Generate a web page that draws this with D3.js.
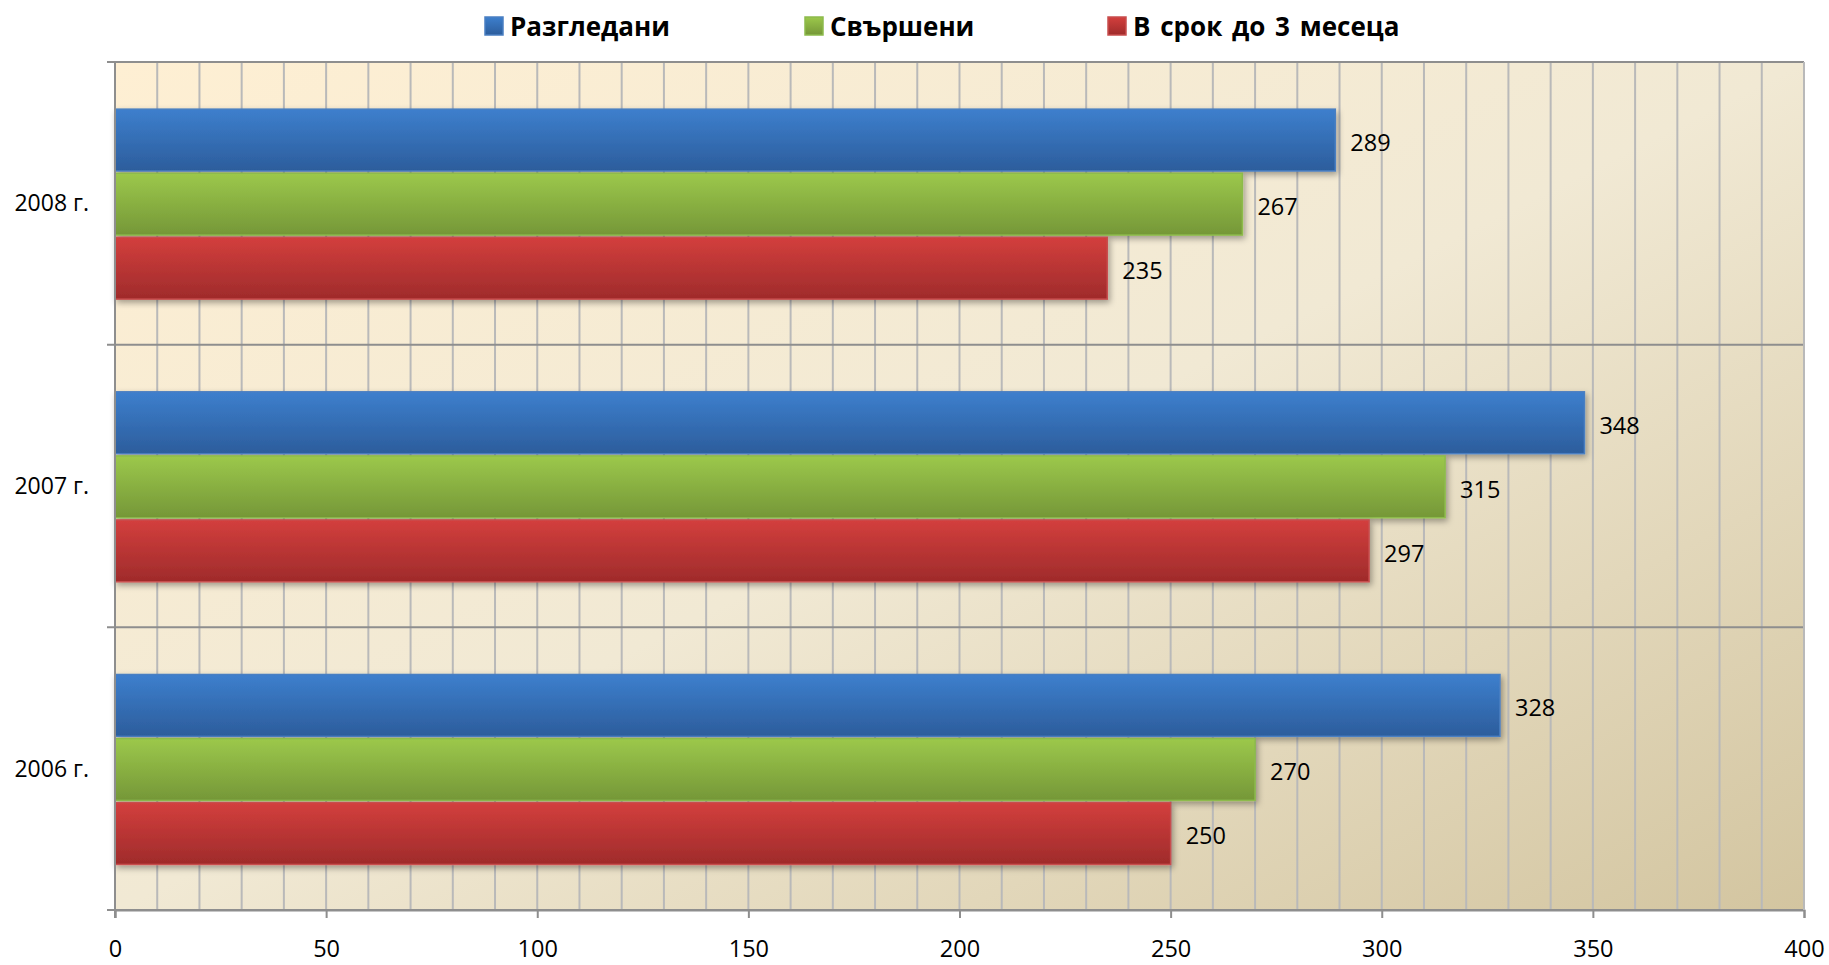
<!DOCTYPE html>
<html><head><meta charset="utf-8">
<script src="https://cdn.jsdelivr.net/npm/d3@7"></script>
<style>html,body{margin:0;padding:0;background:#fff;}svg{display:block;}</style>
</head><body>
<svg id="chart" width="1829" height="965"></svg>
<script>
const categories = ["2008 г.", "2007 г.", "2006 г."];
const seriesNames = ["Разгледани", "Свършени", "В срок до 3 месеца"];
const razgledani = [289, 348, 328];
const svarsheni = [267, 315, 270];
const vSrok = [235, 297, 250];
const xTicks = [0, 50, 100, 150, 200, 250, 300, 350, 400];
const seriesValues = [razgledani, svarsheni, vSrok];

const colors = [
  {top: "#3D7FCD", bot: "#2C5D9C", edge: "#4A7FC2"},
  {top: "#9CC84B", bot: "#759738", edge: "#8DBB4C"},
  {top: "#D33F3D", bot: "#9F2B2B", edge: "#C84E4E"}
];

const svg = d3.select("#chart");
const L = 115, R = 1804, T = 62, B = 910;
const fontFam = "'Open Sans', 'Noto Sans', sans-serif";

const x = d3.scaleLinear().domain([0, 400]).range([L, R]);
const y = d3.scaleBand().domain(categories).range([T, B]).paddingInner(0.328).paddingOuter(0.164);
const ys = d3.scaleBand().domain(d3.range(3)).range([0, y.bandwidth()]).paddingInner(0.035);

const defs = svg.append("defs");
const bg = defs.append("linearGradient").attr("id", "bg").attr("x1", 0).attr("y1", 0).attr("x2", 1).attr("y2", 1);
bg.append("stop").attr("offset", 0).attr("stop-color", "#FEEFD3");
bg.append("stop").attr("offset", 0.5).attr("stop-color", "#F1E9D4");
bg.append("stop").attr("offset", 1).attr("stop-color", "#D3C5A0");
colors.forEach((c, i) => {
  const g = defs.append("linearGradient").attr("id", "g" + i).attr("x1", 0).attr("y1", 0).attr("x2", 0).attr("y2", 1);
  g.append("stop").attr("offset", 0).attr("stop-color", c.top);
  g.append("stop").attr("offset", 1).attr("stop-color", c.bot);
});
const f = defs.append("filter").attr("id", "sh").attr("x", "-5%").attr("y", "-20%").attr("width", "110%").attr("height", "150%");
f.append("feDropShadow").attr("dx", 2).attr("dy", 3).attr("stdDeviation", 3).attr("flood-color", "#000").attr("flood-opacity", 0.35);

// plot background
svg.append("rect").attr("x", L).attr("y", T).attr("width", R - L).attr("height", B - T).attr("fill", "url(#bg)");

// vertical gridlines every 10
svg.append("g").selectAll("line").data(d3.range(10, 401, 10)).join("line")
  .attr("x1", d => x(d)).attr("x2", d => x(d)).attr("y1", T).attr("y2", B)
  .attr("stroke", "#B9B9B9").attr("stroke-width", 2);

// horizontal category boundaries
const bounds = [T].concat(categories.map(c => y(c) - y.step() * 0.164 + y.step()));
svg.append("g").selectAll("line").data(bounds).join("line")
  .attr("x1", L - 8).attr("x2", R).attr("y1", d => d).attr("y2", d => d)
  .attr("stroke", "#8E8E8E").attr("stroke-width", 2);

// bars
const barData = [];
categories.forEach((c, ci) => seriesValues.forEach((s, si) => barData.push({c, si, v: s[ci]})));
const bars = svg.append("g");
bars.selectAll("rect").data(barData).join("rect")
  .attr("x", x(0)).attr("y", d => y(d.c) + ys(d.si) + 0.8)
  .attr("width", d => x(d.v) - x(0)).attr("height", ys.bandwidth())
  .attr("fill", d => `url(#g${d.si})`)
  .attr("stroke", d => colors[d.si].edge).attr("stroke-width", 1.5)
  .attr("filter", "url(#sh)");

// data labels
svg.append("g").selectAll("text").data(barData).join("text")
  .attr("x", d => x(d.v) + 15).attr("y", d => y(d.c) + ys(d.si) + ys.bandwidth() / 2)
  .attr("dy", "0.5em")
  .attr("font-family", fontFam).attr("font-size", 23.5).attr("fill", "#000")
  .text(d => d.v);

// axes
const xAxis = d3.axisBottom(x).tickValues(xTicks).tickSize(8).tickPadding(22).tickFormat(d3.format("d"));
const gx = svg.append("g").attr("transform", `translate(0,${B})`).call(xAxis);
gx.select(".domain").attr("stroke", "#8E8E8E").attr("stroke-width", 2);
gx.selectAll(".tick line").attr("stroke", "#8E8E8E").attr("stroke-width", 2);
gx.selectAll("text").attr("font-family", fontFam).attr("font-size", 23.5).attr("fill", "#000");

svg.append("line").attr("x1", L).attr("x2", L).attr("y1", T).attr("y2", B + 8)
  .attr("stroke", "#8E8E8E").attr("stroke-width", 2);
svg.append("line").attr("x1", R).attr("x2", R).attr("y1", T).attr("y2", B)
  .attr("stroke", "#B9B9B9").attr("stroke-width", 2);

// category labels
svg.append("g").selectAll("text").data(categories).join("text")
  .attr("x", 89).attr("y", d => y(d) + y.bandwidth() / 2).attr("dy", "0.35em")
  .attr("text-anchor", "end").attr("font-family", fontFam).attr("font-size", 23).attr("fill", "#000")
  .text(d => d);

// legend
const legX = [485, 805, 1108];
const leg = svg.append("g").selectAll("g").data(seriesNames).join("g")
  .attr("transform", (d, i) => `translate(${legX[i]},0)`);
leg.append("rect").attr("x", 0).attr("y", 17).attr("width", 18).attr("height", 18)
  .attr("fill", (d, i) => `url(#g${i})`).attr("stroke", (d, i) => colors[i].edge).attr("stroke-width", 1.5);
leg.append("text").attr("x", 25).attr("y", 35.5)
  .attr("font-family", fontFam).attr("font-weight", "bold").attr("font-size", 26).attr("fill", "#000")
  .attr("word-spacing", 3)
  .text(d => d);
</script>
</body></html>
